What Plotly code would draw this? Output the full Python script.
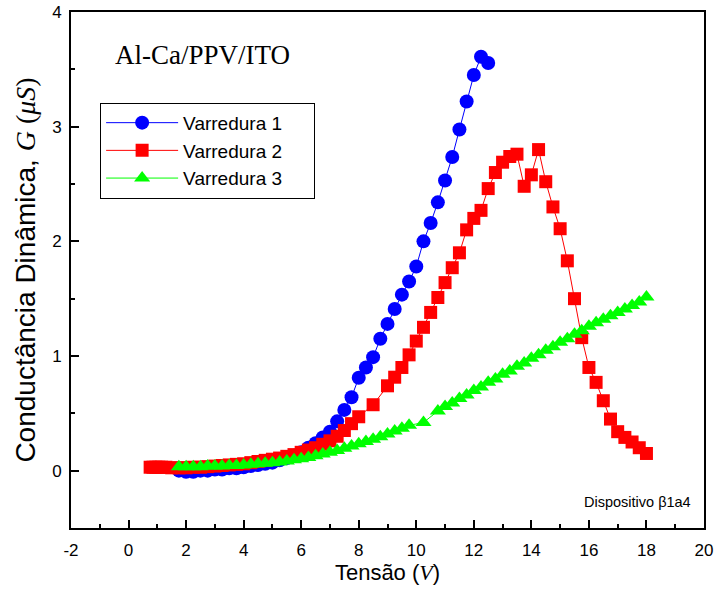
import plotly.graph_objects as go

# ---- data ----
x_v1 = [1.75, 2.0, 2.25, 2.5, 2.75, 3.0, 3.25, 3.5, 3.75, 4.0, 4.25, 4.5, 4.75, 5.0,
        5.25, 5.5, 5.75, 6.0, 6.25, 6.5, 6.75, 7.0, 7.25, 7.5, 7.75, 8.0, 8.25, 8.5,
        8.75, 9.0, 9.25, 9.5, 9.75, 10.0, 10.25, 10.5, 10.75, 11.0, 11.25, 11.5,
        11.75, 12.0, 12.25, 12.5]
g_v1 = [0.0, -0.01, -0.01, 0.0, 0.0, 0.01, 0.01, 0.02, 0.02, 0.03, 0.04, 0.05, 0.06, 0.07,
        0.09, 0.11, 0.13, 0.16, 0.20, 0.24, 0.29, 0.34, 0.43, 0.53, 0.64, 0.81, 0.90, 0.99,
        1.15, 1.28, 1.41, 1.535, 1.65, 1.78, 2.0, 2.16, 2.34, 2.53, 2.735, 2.975,
        3.22, 3.45, 3.61, 3.555]

x_v2 = [0.75, 0.85, 0.95, 1.05, 1.15, 1.3, 1.5, 1.75, 2.0, 2.25, 2.5, 2.75, 3.0, 3.25,
        3.5, 3.75, 4.0, 4.25, 4.5, 4.75, 5.0, 5.25, 5.5, 5.75, 6.0, 6.25, 6.5, 6.75,
        7.0, 7.25, 7.5, 7.75, 8.0, 8.5, 9.0, 9.25, 9.5, 9.75, 10.0, 10.25, 10.5, 10.75,
        11.0, 11.25, 11.5, 11.75, 12.0, 12.25, 12.5, 12.75, 13.0, 13.25, 13.5, 13.75,
        14.0, 14.25, 14.5, 14.75, 15.0, 15.25, 15.5, 15.75, 16.0, 16.25, 16.5, 16.75,
        17.0, 17.25, 17.5, 17.75, 18.0]
g_v2 = [0.03, 0.03, 0.03, 0.03, 0.03, 0.03, 0.025, 0.025, 0.025, 0.03, 0.03, 0.035, 0.04, 0.045,
        0.05, 0.055, 0.06, 0.07, 0.08, 0.09, 0.10, 0.11, 0.125, 0.14, 0.16, 0.18, 0.20, 0.23,
        0.26, 0.30, 0.35, 0.41, 0.47, 0.575, 0.74, 0.815, 0.90, 1.01, 1.13, 1.25, 1.38, 1.51,
        1.64, 1.77, 1.90, 2.10, 2.20, 2.27, 2.46, 2.60, 2.69, 2.74, 2.76, 2.48,
        2.58, 2.80, 2.52, 2.30, 2.11, 1.83, 1.50, 1.16, 0.90, 0.77, 0.61, 0.45,
        0.34, 0.29, 0.25, 0.20, 0.15]

x_v3 = [1.75, 2.0, 2.25, 2.5, 2.75, 3.0, 3.25, 3.5, 3.75, 4.0, 4.25, 4.5, 4.75, 5.0,
        5.25, 5.5, 5.75, 6.0, 6.25, 6.5, 6.75, 7.0, 7.25, 7.5, 7.75, 8.0, 8.25, 8.5,
        8.75, 9.0, 9.25, 9.5, 9.75, 10.25, 10.75, 11.0, 11.25, 11.5, 11.75, 12.0, 12.25,
        12.5, 12.75, 13.0, 13.25, 13.5, 13.75, 14.0, 14.25, 14.5, 14.75, 15.0, 15.25,
        15.5, 15.75, 16.0, 16.25, 16.5, 16.75, 17.0, 17.25, 17.5, 17.75, 18.0]
g_v3 = [0.035, 0.035, 0.035, 0.035, 0.04, 0.04, 0.04, 0.045, 0.045, 0.05, 0.055, 0.06, 0.065, 0.07,
        0.075, 0.085, 0.095, 0.105, 0.115, 0.13, 0.145, 0.16, 0.175, 0.195, 0.215, 0.235, 0.255, 0.275,
        0.295, 0.32, 0.345, 0.37, 0.395, 0.42, 0.52, 0.56, 0.59, 0.63, 0.66, 0.70, 0.73,
        0.77, 0.80, 0.84, 0.87, 0.91, 0.94, 0.98, 1.01, 1.05, 1.08, 1.12, 1.15,
        1.19, 1.22, 1.26, 1.29, 1.32, 1.35, 1.38, 1.41, 1.44, 1.47, 1.515]

series_names = ["Varredura 1", "Varredura 2", "Varredura 3"]
x_tickvals = [-2, 0, 2, 4, 6, 8, 10, 12, 14, 16, 18, 20]
x_ticktext = ["-2", "0", "2", "4", "6", "8", "10", "12", "14", "16", "18", "20"]
y_tickvals = [0, 1, 2, 3, 4]
y_ticktext = ["0", "1", "2", "3", "4"]

SANS = "Liberation Sans, Arial, sans-serif"
SERIF = "Liberation Serif, Times New Roman, serif"
PAD = "\u00a0" * 5

fig = go.Figure()
fig.add_trace(go.Scatter(x=x_v1, y=g_v1, mode="lines+markers", name=series_names[0] + PAD,
                         line=dict(color="#0000FF", width=1),
                         marker=dict(symbol="circle", size=14, color="#0000FF")))
fig.add_trace(go.Scatter(x=x_v2, y=g_v2, mode="lines+markers", name=series_names[1] + PAD,
                         line=dict(color="#FF0000", width=1),
                         marker=dict(symbol="square", size=13, color="#FF0000")))
fig.add_trace(go.Scatter(x=x_v3, y=g_v3, mode="lines+markers", name=series_names[2] + PAD,
                         line=dict(color="#00FF00", width=1),
                         marker=dict(symbol="triangle-up", size=14, color="#00FF00")))

fig.update_layout(
    width=717, height=594,
    margin=dict(l=71, r=13, t=12, b=66),
    paper_bgcolor="white", plot_bgcolor="white",
    font=dict(family=SANS, size=17, color="black"),
    showlegend=True,
    legend=dict(x=0.046, y=0.824, xanchor="left", yanchor="top",
                bordercolor="black", borderwidth=1, bgcolor="white",
                font=dict(family=SANS, size=19), itemwidth=72,
                tracegroupgap=0),
    xaxis=dict(range=[-2, 20], tickvals=x_tickvals, ticktext=x_ticktext,
               ticks="inside", ticklen=8, tickwidth=2,
               tickcolor="black", showline=True, linecolor="black", linewidth=2, mirror=True,
               showgrid=False, zeroline=False, automargin=False, ticklabelstandoff=6,
               minor=dict(dtick=1, ticks="inside", ticklen=4, tickwidth=2, tickcolor="black"),
               tickfont=dict(size=17),
               title=dict(text="Tensão (<span style=\"font-family:Liberation Serif\"><i>V</i></span>)",
                          font=dict(size=22), standoff=5)),
    yaxis=dict(range=[-0.5, 4], tickvals=y_tickvals, ticktext=y_ticktext,
               ticks="inside", ticklen=8, tickwidth=2,
               tickcolor="black", showline=True, linecolor="black", linewidth=2, mirror=True,
               showgrid=False, zeroline=False, automargin=False, ticklabelstandoff=4,
               minor=dict(dtick=0.5, ticks="inside", ticklen=4, tickwidth=2, tickcolor="black"),
               tickfont=dict(size=17),
               title=dict(text="Conductância Dinâmica, <span style=\"font-family:Liberation Serif\"><i>G</i> (<i>μS</i>)</span>",
                          font=dict(size=28), standoff=8)),
)

fig.add_annotation(x=-0.55, y=3.625, xref="x", yref="y", text="Al-Ca/PPV/ITO",
                   showarrow=False, xanchor="left", yanchor="middle",
                   font=dict(family=SERIF, size=27, color="black"))
fig.add_annotation(x=19.62, y=-0.27, xref="x", yref="y", text="Dispositivo β1a4",
                   showarrow=False, xanchor="right", yanchor="middle",
                   font=dict(family=SANS, size=14.5, color="black"))

fig.write_html("out.html")
